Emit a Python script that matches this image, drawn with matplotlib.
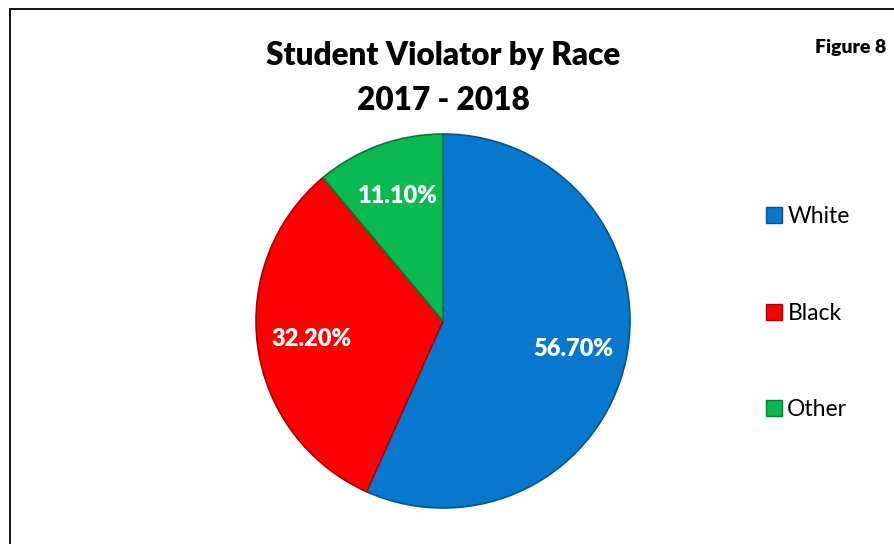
import matplotlib.pyplot as plt
from matplotlib.lines import Line2D
from matplotlib.patches import Rectangle

# data
races = ["White", "Black", "Other"]
shares = [56.7, 32.2, 11.1]
colors = ["#0878CF", "#FF0000", "#0AB950"]
edges = ["#05528f", "#a80000", "#067a35"]

plt.rcParams['font.family'] = ['Lato', 'DejaVu Sans']

fig = plt.figure(figsize=(8.94, 5.44), dpi=100)

# chart frame
fig.patches.append(Rectangle((10/894, -0.05), 1.2, 1.05 - 9/544, transform=fig.transFigure,
                             fill=False, edgecolor='black', linewidth=1.3))

ax = fig.add_axes([(443-187)/894, (544-321-187)/544, 374/894, 374/544])
wedges, texts, autotexts = ax.pie(shares, colors=colors, startangle=90, counterclock=False,
                                  autopct='%.2f%%', pctdistance=0.71,
                                  wedgeprops=dict(linewidth=1.2),
                                  textprops=dict(color='white', fontsize=17, fontweight='heavy'))
for w, e in zip(wedges, edges):
    w.set_edgecolor(e)
ax.set_xlim(-1, 1)
ax.set_ylim(-1, 1)
ax.set_aspect('equal')

fig.text(443/894, 1 - 56/544, "Student Violator by Race", ha='center', va='center',
         fontsize=22.7, fontweight='heavy')
fig.text(443/894, 1 - 101/544, "2017 - 2018", ha='center', va='center',
         fontsize=22.7, fontweight='heavy')
fig.text(851/894, 1 - 48/544, "Figure 8", ha='center', va='center',
         fontsize=14, fontweight='heavy')

handles = [Line2D([], [], marker='s', linestyle='none', markersize=11,
                  markerfacecolor=c, markeredgecolor=e, markeredgewidth=1)
           for c, e in zip(colors, edges)]
fig.legend(handles, races, loc='upper left', bbox_to_anchor=(753/894, 1 - 197/544),
           frameon=False, fontsize=16.5, labelspacing=3.3, handletextpad=0.1,
           handlelength=1.0, borderaxespad=0)

fig.savefig("out.png", dpi=100)
